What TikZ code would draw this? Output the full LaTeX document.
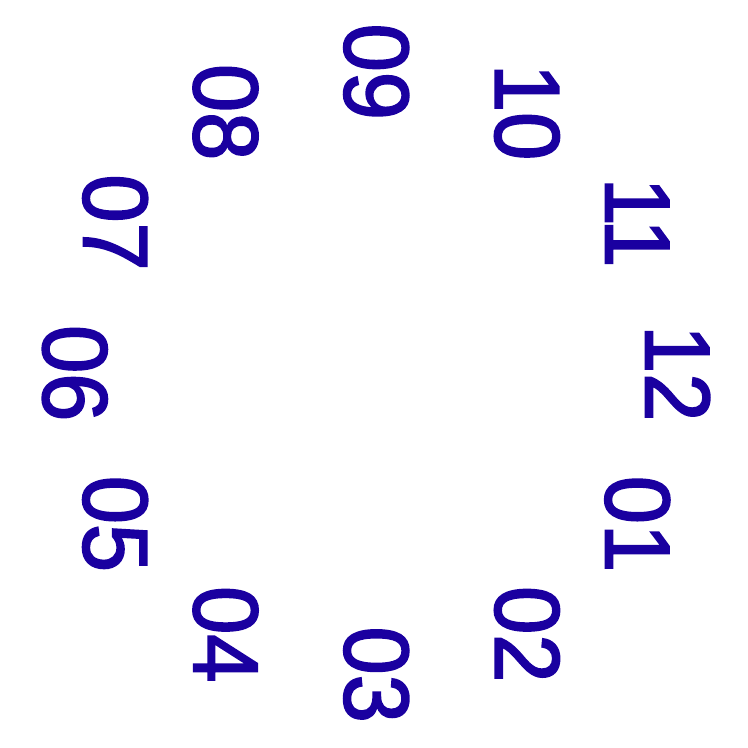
\documentclass[tikz,border=0pt]{standalone}
\usepackage{fontspec}
\setmainfont{Liberation Sans}
\newfontfamily\dialfont[FakeBold=2, FakeStretch=0.94]{Liberation Sans}
\usepackage{xcolor}
\usepackage{tikz}
\definecolor{dialblue}{RGB}{26,0,160}

\begin{document}
\begin{tikzpicture}[every node/.style={text=dialblue, font=\dialfont\fontsize{35}{40}\selectfont, rotate=-90, inner sep=0pt}]
  \useasboundingbox (0,0) rectangle (10,10);
  \coordinate (c) at (5.03,5.01);
  \foreach \lab [count=\k from 0] in {12,01,02,03,04,05,06,07,08,09,10,11}
    \node (h\lab) at ([shift={(-30*\k:4.03)}]c) {\lab};
\end{tikzpicture}
\end{document}
